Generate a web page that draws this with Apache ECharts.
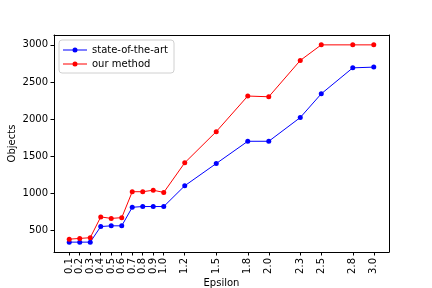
<!DOCTYPE html>
<html><head><meta charset="utf-8">
<script src="https://cdn.jsdelivr.net/npm/echarts@6/dist/echarts.min.js"></script>
<style>html,body{margin:0;padding:0;background:#fff}#c{width:432px;height:288px}</style>
</head><body><div id="c"></div>
<script>
const epsilon = [0.1,0.2,0.3,0.4,0.5,0.6,0.7,0.8,0.9,1.0,1.2,1.5,1.8,2.0,2.3,2.5,2.8,3.0];
const stateOfTheArt = [340,340,340,550,560,560,810,820,820,820,1100,1400,1700,1700,2020,2340,2690,2700];
const ourMethod = [380,390,400,680,660,670,1020,1020,1040,1010,1410,1830,2310,2300,2790,3000,3000,3000];
const xTicks = [0.1,0.2,0.3,0.4,0.5,0.6,0.7,0.8,0.9,1.0,1.2,1.5,1.8,2.0,2.3,2.5,2.8,3.0];
const yTicks = [500,1000,1500,2000,2500,3000];

const font = 'DejaVu Sans';
const chart = echarts.init(document.getElementById('c'), null, {renderer:'canvas'});
const icon = 'path://M0,3.5H24V4.5H0Z M12,1.5A2.5,2.5 0 1,1 12,6.5A2.5,2.5 0 1,1 12,1.5Z';
const spine = {show:true,onZero:false,lineStyle:{color:'#000',width:1}};
const off = {show:false};
chart.setOption({
  animation:false,
  grid:{left:54,right:43,top:35,bottom:36,show:false,outerBoundsMode:'none',containLabel:false},
  legend:{
    left:59, top:40, orient:'vertical',
    backgroundColor:'#fff', borderColor:'#d0d0d0', borderWidth:1, borderRadius:3,
    padding:[5,6,4,4], itemGap:4, itemWidth:24, itemHeight:8,
    textStyle:{fontFamily:font,fontSize:10,color:'#000'},
    data:[{name:'state-of-the-art',icon:icon},{name:'our method',icon:icon}]
  },
  xAxis:[{
    type:'value', min:-0.045, max:3.145, position:'bottom',
    name:'Epsilon', nameLocation:'middle', nameGap:26, nameMoveOverlap:false,
    nameTextStyle:{fontFamily:font,fontSize:10,color:'#000'},
    axisLine:spine,
    axisTick:{show:true,length:3.5,lineStyle:{color:'#000'},customValues:xTicks},
    axisLabel:{rotate:90,fontFamily:font,fontSize:10,color:'#000',margin:6,customValues:xTicks,
      formatter:v=>v.toFixed(1)},
    splitLine:off
  },{
    type:'value', min:-0.045, max:3.145, position:'top',
    axisLine:spine, axisTick:off, axisLabel:off, splitLine:off
  }],
  yAxis:[{
    type:'value', min:207, max:3133, position:'left',
    name:'Objects', nameLocation:'middle', nameGap:37, nameMoveOverlap:false,
    nameTextStyle:{fontFamily:font,fontSize:10,color:'#000'},
    axisLine:spine,
    axisTick:{show:true,length:3.5,lineStyle:{color:'#000'},customValues:yTicks},
    axisLabel:{fontFamily:font,fontSize:10,color:'#000',margin:6,customValues:yTicks,
      formatter:v=>String(v)},
    splitLine:off
  },{
    type:'value', min:207, max:3133, position:'right',
    axisLine:spine, axisTick:off, axisLabel:off, splitLine:off
  }],
  series:[
    {name:'state-of-the-art',type:'line',data:epsilon.map((e,i)=>[e,stateOfTheArt[i]]),
     color:'#0000ff',lineStyle:{width:1,color:'#0000ff'},symbol:'circle',symbolSize:5,
     itemStyle:{color:'#0000ff'}},
    {name:'our method',type:'line',data:epsilon.map((e,i)=>[e,ourMethod[i]]),
     color:'#ff0000',lineStyle:{width:1,color:'#ff0000'},symbol:'circle',symbolSize:5,
     itemStyle:{color:'#ff0000'}}
  ]
});
</script></body></html>
